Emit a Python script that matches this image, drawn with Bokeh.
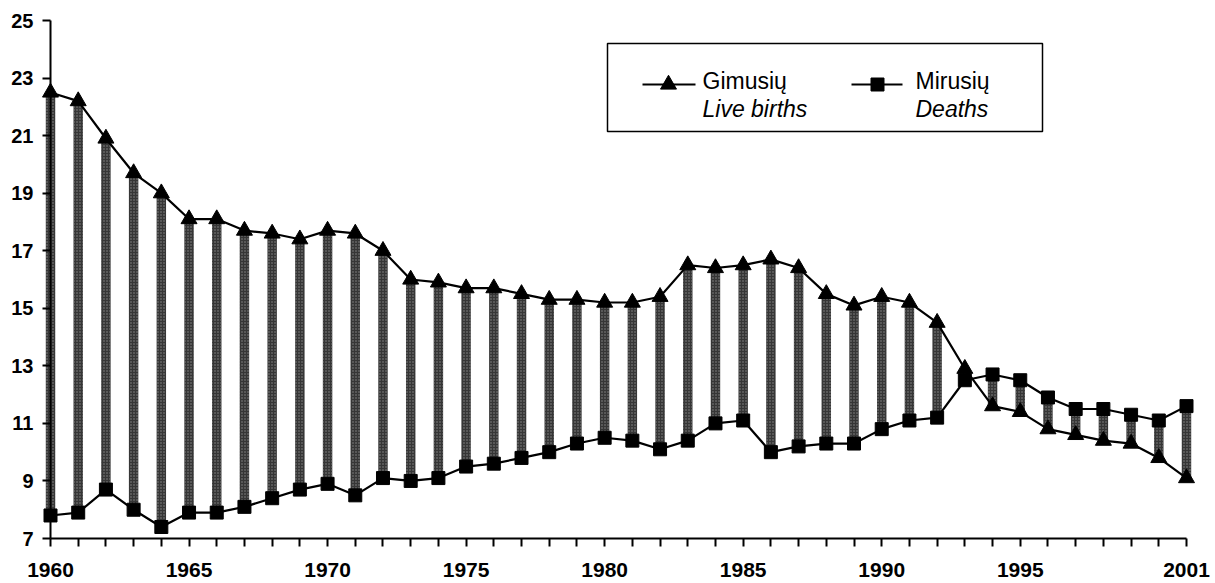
from bokeh.plotting import figure
from bokeh.models import Range1d, FixedTicker, Label, BoxAnnotation
from bokeh.embed import file_html
from bokeh.resources import INLINE

years = list(range(1960, 2002))
births = [22.5, 22.2, 20.9, 19.7, 19.0, 18.1, 18.1, 17.7, 17.6, 17.4,
          17.7, 17.6, 17.0, 16.0, 15.9, 15.7, 15.7, 15.5, 15.3, 15.3,
          15.2, 15.2, 15.4, 16.5, 16.4, 16.5, 16.7, 16.4, 15.5, 15.1,
          15.4, 15.2, 14.5, 12.9, 11.6, 11.4, 10.8, 10.6, 10.4, 10.3,
          9.8, 9.1]
deaths = [7.8, 7.9, 8.7, 8.0, 7.4, 7.9, 7.9, 8.1, 8.4, 8.7,
          8.9, 8.5, 9.1, 9.0, 9.1, 9.5, 9.6, 9.8, 10.0, 10.3,
          10.5, 10.4, 10.1, 10.4, 11.0, 11.1, 10.0, 10.2, 10.3, 10.3,
          10.8, 11.1, 11.2, 12.5, 12.7, 12.5, 11.9, 11.5, 11.5, 11.3,
          11.1, 11.6]
y_ticks = [7, 9, 11, 13, 15, 17, 19, 21, 23, 25]
x_label_years = [1960, 1965, 1970, 1975, 1980, 1985, 1990, 1995, 2001]
births_label = ("Gimusių", "Live births")
deaths_label = ("Mirusių", "Deaths")

FONT = "Liberation Sans"

W, H = 1215, 583
# pixel layout of the axes inside the canvas (frame covers the whole canvas)
FIRST_PX, LAST_PX = 50, 1186      # x pixel of first / last year
TOP_PX, BOTTOM_PX = 20, 538       # y pixel of top / bottom y tick
PPY = (LAST_PX - FIRST_PX) / (years[-1] - years[0])
PPU = (BOTTOM_PX - TOP_PX) / (y_ticks[-1] - y_ticks[0])
X0 = years[0] - FIRST_PX / PPY
X1 = years[-1] + (W - LAST_PX) / PPY
Y1 = y_ticks[-1] + TOP_PX / PPU
Y0 = y_ticks[0] - (H - BOTTOM_PX) / PPU

p = figure(width=W, height=H, output_backend="svg", toolbar_location=None,
           x_range=Range1d(X0, X1), y_range=Range1d(Y0, Y1),
           min_border_left=0, min_border_right=0,
           min_border_top=0, min_border_bottom=0)
p.outline_line_color = None
p.xgrid.visible = False
p.ygrid.visible = False
p.background_fill_color = "white"

# hi-low bars
p.vbar(x=years, bottom=deaths, top=births, width=0.34,
       fill_color="#363636", line_color=None,
       hatch_pattern="dot", hatch_color="#8c8c8c", hatch_scale=3, hatch_weight=1)

# series
p.line(years, births, line_color="black", line_width=2.2)
p.scatter(years, births, marker="triangle", size=16, fill_color="black", line_color="black")
p.line(years, deaths, line_color="black", line_width=2.2)
p.scatter(years, deaths, marker="square", size=13, fill_color="black", line_color="black")

# x axis, placed at the lowest y tick
xa = p.xaxis[0]
xa.ticker = FixedTicker(ticks=years)
xa.major_label_overrides = {y: (str(y) if y in x_label_years else "") for y in years}
xa.fixed_location = y_ticks[0]
xa.bounds = (years[0], years[-1])
xa.minor_tick_line_color = None
xa.major_tick_in = 0
xa.major_tick_out = 8
xa.major_tick_line_width = 2
xa.axis_line_width = 2
xa.major_label_standoff = 16
xa.major_label_text_font = FONT
xa.major_label_text_font_style = "bold"
xa.major_label_text_font_size = "21px"
xa.major_label_text_color = "black"

# y axis, placed at the first year
ya = p.yaxis[0]
ya.ticker = FixedTicker(ticks=y_ticks)
ya.fixed_location = years[0]
ya.bounds = (y_ticks[0], y_ticks[-1])
ya.minor_tick_line_color = None
ya.major_tick_in = 0
ya.major_tick_out = 8
ya.major_tick_line_width = 2
ya.axis_line_width = 2
ya.major_label_standoff = 9
ya.major_label_text_font = FONT
ya.major_label_text_font_style = "bold"
ya.major_label_text_font_size = "20px"
ya.major_label_text_color = "black"


# legend (manual, placed by pixel positions)
def px_x(px):
    return X0 + px / PPY


def px_y(py):
    return Y1 - py / PPU


box = BoxAnnotation(left=px_x(607), right=px_x(1042), top=px_y(43), bottom=px_y(131),
                    fill_color=None, fill_alpha=0, line_color="black", line_alpha=1.0,
                    line_width=1.5, level="underlay")
p.add_layout(box)

for (x0, x1, xm, xt, marker, msize, lab) in [
        (642, 695, 668, 702, "triangle", 16, births_label),
        (851, 902, 877, 915, "square", 13, deaths_label)]:
    p.line([px_x(x0), px_x(x1)], [px_y(84), px_y(84)], line_color="black", line_width=2.2)
    p.scatter([px_x(xm)], [px_y(84)], marker=marker, size=msize,
              fill_color="black", line_color="black")
    p.add_layout(Label(x=px_x(xt), y=px_y(80), text=lab[0], text_font=FONT,
                       text_font_size="23px", text_baseline="alphabetic",
                       text_color="black"))
    p.add_layout(Label(x=px_x(xt), y=px_y(108), text=lab[1], text_font=FONT,
                       text_font_size="23px", text_font_style="italic",
                       text_baseline="alphabetic", text_color="black"))

open("out.html", "w").write(file_html(p, INLINE))
